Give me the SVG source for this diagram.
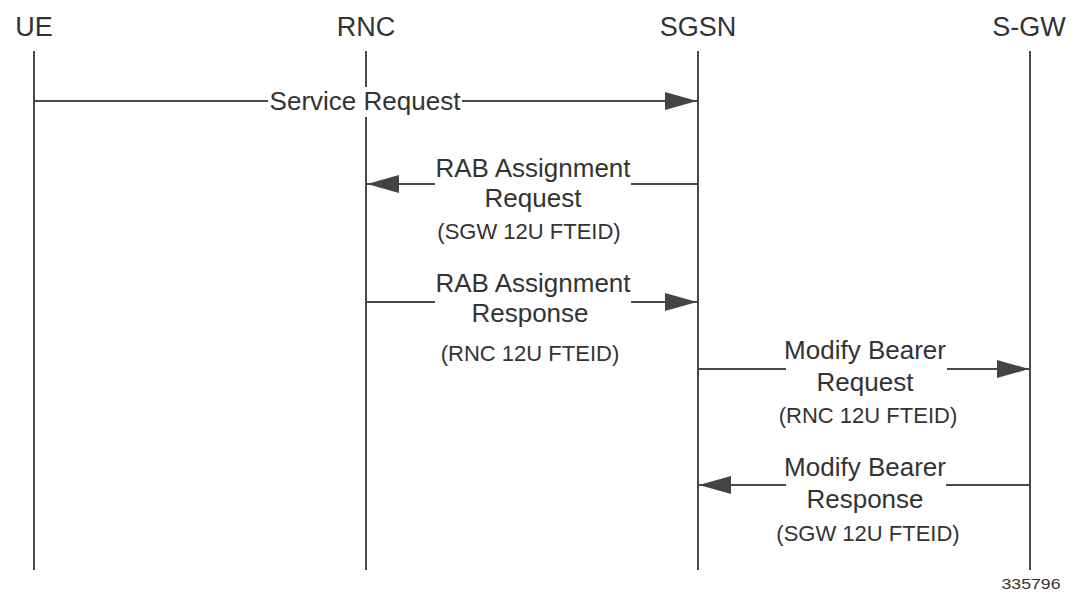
<svg xmlns="http://www.w3.org/2000/svg" width="1080" height="593" viewBox="0 0 1080 593">
<style>
.hdr{font-family:"Liberation Sans",Arial,sans-serif;font-size:27px;fill:#333;text-anchor:middle}
.lbl{font-family:"Liberation Sans",Arial,sans-serif;font-size:26px;fill:#333;text-anchor:middle}
.sub{font-family:"Liberation Sans",Arial,sans-serif;font-size:22px;fill:#333;text-anchor:middle}
.life{stroke:#4a4a4a;stroke-width:2;fill:none}
.msg{stroke:#4a4a4a;stroke-width:2;fill:none;marker-end:url(#ah)}
.bg{fill:#fff}
</style>
<defs>
<marker id="ah" markerUnits="userSpaceOnUse" markerWidth="32" markerHeight="18" refX="32" refY="9" orient="auto">
<path d="M0,0 L32,9 L0,18 z" fill="#444"/>
</marker>
</defs>
<rect width="1080" height="593" fill="#fff"/>
<g id="UE">
<text class="hdr" x="34" y="36">UE</text>
<line class="life" x1="34" y1="51" x2="34" y2="570"/>
</g>
<g id="RNC">
<text class="hdr" x="366" y="36">RNC</text>
<line class="life" x1="366" y1="51" x2="366" y2="570"/>
</g>
<g id="SGSN">
<text class="hdr" x="698" y="36">SGSN</text>
<line class="life" x1="698" y1="51" x2="698" y2="570"/>
</g>
<g id="SGW">
<text class="hdr" x="1029" y="36">S-GW</text>
<line class="life" x1="1030" y1="51" x2="1030" y2="570"/>
</g>
<g id="connectors">
<path class="msg" d="M34,101 L268,101 M462,101 L697,101"/>
<path class="msg" d="M698,184 L631,184 M435,184 L367,184"/>
<path class="msg" d="M366,302 L435,302 M631,302 L697,302"/>
<path class="msg" d="M698,369 L786,369 M947,369 L1029,369"/>
<path class="msg" d="M1030,485 L946,485 M786,485 L699,485"/>
</g>
<g id="msg-service-request">
<rect class="bg" x="268" y="87" width="194" height="30"/>
<text class="lbl" x="365" y="110">Service Request</text>
</g>
<g id="msg-rab-request">
<text class="lbl" x="533" y="177">RAB Assignment</text>
<text class="lbl" x="533" y="207">Request</text>
<text class="sub" x="529" y="239">(SGW 12U FTEID)</text>
</g>
<g id="msg-rab-response">
<text class="lbl" x="533" y="292">RAB Assignment</text>
<text class="lbl" x="530" y="322">Response</text>
<text class="sub" x="530" y="361">(RNC 12U FTEID)</text>
</g>
<g id="msg-mb-request">
<text class="lbl" x="865" y="359">Modify Bearer</text>
<text class="lbl" x="865" y="391">Request</text>
<text class="sub" x="868" y="423">(RNC 12U FTEID)</text>
</g>
<g id="msg-mb-response">
<text class="lbl" x="865" y="476">Modify Bearer</text>
<text class="lbl" x="865" y="508">Response</text>
<text class="sub" x="868" y="541">(SGW 12U FTEID)</text>
</g>
<text x="1031" y="589" font-family="'Liberation Sans',Arial,sans-serif" font-size="15" fill="#333" text-anchor="middle" textLength="59" lengthAdjust="spacingAndGlyphs">335796</text>
</svg>
